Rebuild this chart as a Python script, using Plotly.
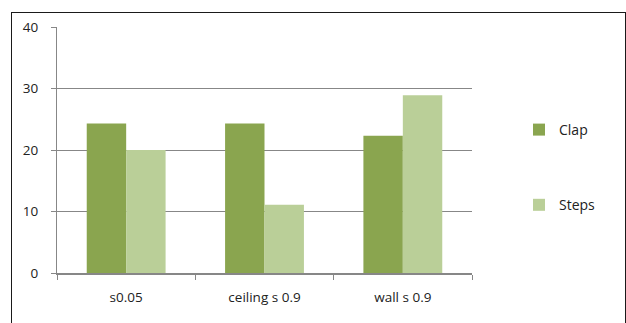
import plotly.graph_objects as go

categories = ["s0.05", "ceiling s 0.9", "wall s 0.9"]
clap = [24.3, 24.3, 22.3]
steps = [20.0, 11.1, 28.9]
y_ticks = [0, 10, 20, 30, 40]

FONT = "Open Sans"
GRID = "#878787"

fig = go.Figure()
fig.add_trace(go.Bar(
    x=categories, y=clap, name="Clap", legendgroup="clap",
    marker=dict(color="#8aa54f", line=dict(width=0)),
))
fig.add_trace(go.Bar(
    x=categories, y=steps, name="Steps", legendgroup="steps",
    marker=dict(color="#bacf98", line=dict(width=0)),
))

L, R, T, B = 57, 154, 27, 50
W, H = 626, 323
pw, ph = W - L - R, H - T - B


def px_x(v):
    return (v - L) / pw


def px_y(v):
    return (H - B - v) / ph


# chart-area frame: left, top and right edges (the bottom runs off the page)
frame = dict(color="#1a1a1a", width=1)
shapes = [
    dict(type="line", xref="paper", yref="paper",
         x0=px_x(11.5), x1=px_x(11.5), y0=px_y(12), y1=px_y(330), line=frame),
    dict(type="line", xref="paper", yref="paper",
         x0=px_x(11.5), x1=px_x(625.5), y0=px_y(12.5), y1=px_y(12.5), line=frame),
    dict(type="line", xref="paper", yref="paper",
         x0=px_x(625.5), x1=px_x(625.5), y0=px_y(12), y1=px_y(330), line=frame),
]

fig.update_layout(
    width=W, height=H,
    margin=dict(l=L, r=R, t=T, b=B, pad=0),
    paper_bgcolor="white", plot_bgcolor="white",
    barmode="group", bargap=0.43, bargroupgap=0,
    font=dict(family=FONT, size=12, color="#222222"),
    showlegend=True,
    legend=dict(
        x=px_x(519), y=px_y(114), xanchor="left", yanchor="top",
        traceorder="grouped", tracegroupgap=54,
        itemwidth=30, font=dict(family=FONT, size=14),
        bgcolor="rgba(0,0,0,0)",
    ),
    xaxis=dict(
        type="category", tickson="boundaries",
        ticks="outside", ticklen=5, tickcolor=GRID,
        showline=True, linecolor=GRID, linewidth=1.5,
        showgrid=False, ticklabelstandoff=11,
        tickfont=dict(family=FONT, size=13.5),
    ),
    yaxis=dict(
        range=[0, 40], tickvals=y_ticks,
        ticks="outside", ticklen=5, tickcolor=GRID,
        showline=True, linecolor=GRID, linewidth=1,
        showgrid=True, gridcolor=GRID, gridwidth=1,
        zeroline=False, ticklabelstandoff=10,
        tickfont=dict(family=FONT, size=13.5),
    ),
    shapes=shapes,
)

fig.write_html("out.html")
